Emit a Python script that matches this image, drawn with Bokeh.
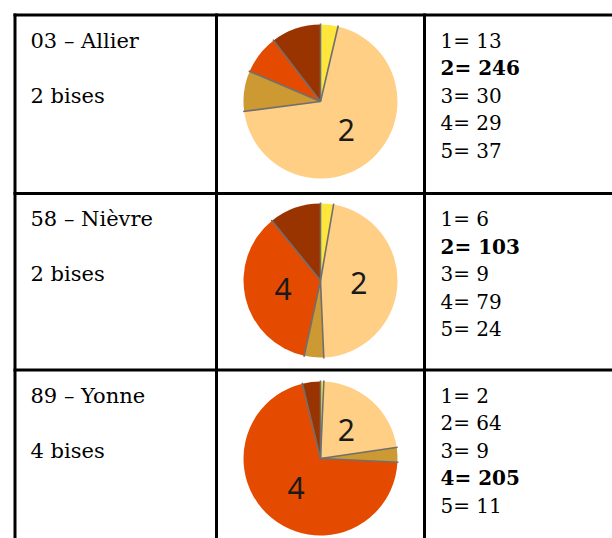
import math
from bokeh.plotting import figure
from bokeh.models import Range1d, ColumnDataSource
from bokeh.core.properties import value
from bokeh.embed import file_html
from bokeh.resources import INLINE

# ---- data ----
departments = ["03 – Allier", "58 – Nièvre", "89 – Yonne"]
classes = ["1", "2", "3", "4", "5"]
allier = [13, 246, 30, 29, 37]
nievre = [6, 103, 9, 79, 24]
yonne = [2, 64, 9, 205, 11]
counts = [allier, nievre, yonne]
colors = ["#FFE63C", "#FFCF86", "#CC9933", "#E54B00", "#993300"]

# ---- layout (pixels, top-left origin) ----
W, H = 612, 538
def Y(py):
    return H - py

row_tops = [14.5, 193, 369.5]
col_lines = [14.5, 216, 424]
pie_cx = 320
pie_cy = [101, 280, 458]
R = 77
LINE_PITCH = 27.5

p = figure(width=W, height=H, x_range=Range1d(0, W), y_range=Range1d(0, H),
           output_backend="svg", toolbar_location=None, min_border=0,
           x_axis_location=None, y_axis_location=None,
           outline_line_color=None, background_fill_color="white",
           border_fill_color="white")
p.grid.visible = False

# ---- pies ----
wx, wy, ws, we, wc = [], [], [], [], []
rx, ry, ra = [], [], []
lx, ly, lt = [], [], []
for r, vals in enumerate(counts):
    total = sum(vals)
    cy = Y(pie_cy[r])
    a0 = 0.0
    for i, v in enumerate(vals):
        a1 = a0 + 2 * math.pi * v / total
        wx.append(pie_cx); wy.append(cy)
        ws.append(math.pi / 2 - a0); we.append(math.pi / 2 - a1)
        wc.append(colors[i])
        rx.append(pie_cx); ry.append(cy); ra.append(math.pi / 2 - a0)
        if v / total > 0.15:
            mid = (a0 + a1) / 2
            lx.append(pie_cx + 0.5 * R * math.sin(mid))
            ly.append(cy + 0.5 * R * math.cos(mid))
            lt.append(classes[i])
        a0 = a1

p.wedge(x="x", y="y", radius=R, start_angle="s", end_angle="e", direction="clock",
        fill_color="c", line_color=None,
        source=ColumnDataSource(dict(x=wx, y=wy, s=ws, e=we, c=wc)))
p.ray(x=rx, y=ry, length=R + 1, angle=ra, line_color="#6f6f6f", line_width=1.6)
p.text(x=lx, y=ly, text=lt, text_align="center", text_baseline="middle",
       text_font=value("Noto Sans"), text_font_size="30px", text_color="#1a1a1a")

# ---- table lines ----
hx0 = [13] * 3; hx1 = [W] * 3; hy = [Y(t) for t in row_tops]
p.segment(x0=hx0, y0=hy, x1=hx1, y1=hy, line_color="black", line_width=3)
vy0 = [Y(13)] * 3; vy1 = [Y(H)] * 3
p.segment(x0=col_lines, y0=vy0, x1=col_lines, y1=vy1, line_color="black", line_width=3)

# ---- texts ----
tx, ty, tt = [], [], []
for r, name in enumerate(departments):
    vals = counts[r]
    top = row_tops[r]
    best = vals.index(max(vals))
    tx += [30, 30]
    ty += [Y(top + 25.5), Y(top + 25.5 + 2 * LINE_PITCH)]
    tt += [name, f"{classes[best]} bises"]
p.text(x=tx, y=ty, text=tt, text_align="left", text_baseline="alphabetic",
       text_font=value("DejaVu Serif"), text_font_size="21px", text_color="black")

cx, cyy, ct, cs = [], [], [], []
for r, vals in enumerate(counts):
    top = row_tops[r]
    best = vals.index(max(vals))
    for i, v in enumerate(vals):
        cx.append(440)
        cyy.append(Y(top + 25.5 + i * LINE_PITCH))
        ct.append(f"{classes[i]}= {v}")
        cs.append("bold" if i == best else "normal")
p.text(x="x", y="y", text="t", text_font_style="s", text_align="left",
       text_baseline="alphabetic", text_font=value("DejaVu Serif"),
       text_font_size="20px", text_color="black",
       source=ColumnDataSource(dict(x=cx, y=cyy, t=ct, s=cs)))

open("out.html", "w").write(file_html(p, INLINE))
